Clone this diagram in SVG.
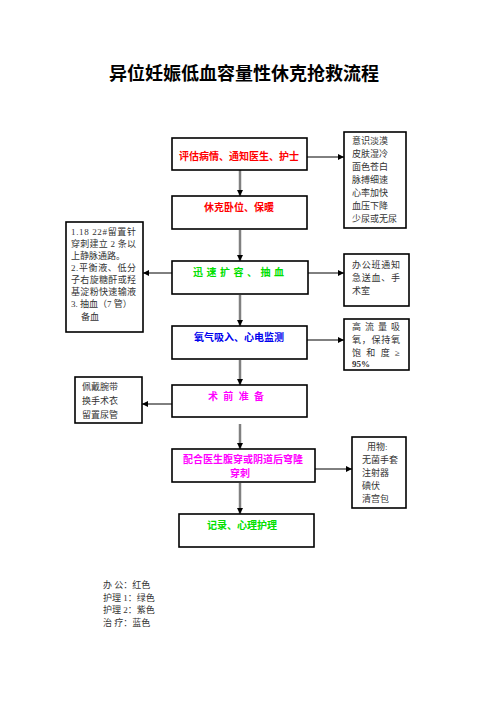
<svg xmlns="http://www.w3.org/2000/svg" width="496" height="702" viewBox="0 0 496 702">
<defs>
<marker id="ah" viewBox="0 0 6 6" refX="6" refY="3" markerWidth="6" markerHeight="6" markerUnits="userSpaceOnUse" orient="auto">
<path d="M0,0 L6,3 L0,6 Z" fill="#000"/>
</marker>
<marker id="av" viewBox="0 0 6 6" refX="6" refY="3" markerWidth="6" markerHeight="6" markerUnits="userSpaceOnUse" orient="auto">
<path d="M0,0 L6,3 L0,6 Z" fill="#000"/>
</marker>
</defs>
<style>
.box{fill:#fff;stroke:#000;stroke-width:1.6}
.main{font-family:"Noto Sans CJK SC","Liberation Sans",sans-serif;font-size:10px;font-weight:bold;text-anchor:middle}
.start{text-anchor:start}
.side{font-family:"Liberation Serif","Noto Sans CJK SC",serif;font-size:9px;fill:#333}
.v{stroke:#808080;stroke-width:2.5;fill:none;marker-end:url(#av)}
.h{stroke:#000;stroke-width:1;fill:none;marker-end:url(#ah)}
.red{fill:#ff0000}.green{fill:#00e000}.blue{fill:#0000ee}.pink{fill:#ff00ff}
</style>
<rect width="496" height="702" fill="#fff"/>
<text x="244" y="80" font-family="Noto Sans CJK SC, sans-serif" font-size="18" font-weight="bold" text-anchor="middle" fill="#000">异位妊娠低血容量性休克抢救流程</text>

<g id="connectors">
<line class="v" x1="240" y1="170" x2="240" y2="196"/>
<line class="v" x1="240" y1="230" x2="240" y2="261"/>
<line class="v" x1="240" y1="295" x2="240" y2="326"/>
<line class="v" x1="240" y1="360" x2="240" y2="385"/>
<line class="v" x1="240" y1="424" x2="240" y2="449"/>
<line class="v" x1="240" y1="483" x2="240" y2="514"/>
<line class="h" x1="307" y1="157" x2="344" y2="157"/>
<line class="h" x1="172" y1="273" x2="143" y2="273"/>
<line class="h" x1="308" y1="273" x2="344" y2="273"/>
<line class="h" x1="307" y1="340" x2="344" y2="340"/>
<line class="h" x1="172" y1="404" x2="142" y2="404"/>
<line class="h" x1="315" y1="469" x2="352" y2="469"/>
</g>

<g id="n1"><rect class="box" x="172" y="138" width="135" height="32"/><text class="main red" x="239" y="160">评估病情、通知医生、护士</text></g>
<g id="n2"><rect class="box" x="172" y="196" width="135" height="33"/><text class="main red" x="239" y="211">休克卧位、保暖</text></g>
<g id="n3"><rect class="box" x="172" y="261" width="136" height="33"/><text class="main start green" x="193" y="276" textLength="91" lengthAdjust="spacing">迅速扩容、抽血</text></g>
<g id="n4"><rect class="box" x="172" y="326" width="135" height="33"/><text class="main blue" x="239" y="341">氧气吸入、心电监测</text></g>
<g id="n5"><rect class="box" x="172" y="385" width="135" height="32"/><text class="main start pink" x="208" y="400" textLength="56" lengthAdjust="spacing">术前准备</text></g>
<g id="n6"><rect class="box" x="172" y="449" width="143" height="33"/><text class="main pink" x="243" y="463" font-size="10.5">配合医生腹穿或阴道后穹隆</text><text class="main pink" x="240" y="477" font-size="10.5">穿刺</text></g>
<g id="n7"><rect class="box" x="179" y="514" width="135" height="33"/><text class="main green" x="242" y="529">记录、心理护理</text></g>

<g id="s1"><rect class="box" x="344" y="132" width="62" height="96"/>
<text class="side" x="352" y="144">意识淡漠</text>
<text class="side" x="352" y="157">皮肤湿冷</text>
<text class="side" x="352" y="170">面色苍白</text>
<text class="side" x="352" y="183">脉搏细速</text>
<text class="side" x="352" y="196">心率加快</text>
<text class="side" x="352" y="209">血压下降</text>
<text class="side" x="352" y="222">少尿或无尿</text>
</g>

<g id="s2"><rect class="box" x="66" y="222" width="77" height="110"/>
<text class="side" x="71" y="235" textLength="65" lengthAdjust="spacing">1.18 22#留置针</text>
<text class="side" x="71" y="247" textLength="65" lengthAdjust="spacing">穿刺建立 2 条以</text>
<text class="side" x="71" y="259">上静脉通路。</text>
<text class="side" x="71" y="271" textLength="65" lengthAdjust="spacing">2.平衡液、低分</text>
<text class="side" x="71" y="283" textLength="65" lengthAdjust="spacing">子右旋糖酐或羟</text>
<text class="side" x="71" y="295" textLength="65" lengthAdjust="spacing">基淀粉快速输液</text>
<text class="side" x="71" y="307">3.  抽血（7 管）</text>
<text class="side" x="81" y="320">备血</text>
</g>

<g id="s3"><rect class="box" x="344" y="254" width="65" height="52"/>
<text class="side" x="352" y="268" textLength="48" lengthAdjust="spacing">办公班通知</text>
<text class="side" x="352" y="281" textLength="48" lengthAdjust="spacing">急送血、手</text>
<text class="side" x="352" y="294">术室</text>
</g>

<g id="s4"><rect class="box" x="344" y="319" width="65" height="51"/>
<text class="side" x="352" y="330" textLength="48" lengthAdjust="spacing">高流量吸</text>
<text class="side" x="352" y="343" textLength="48" lengthAdjust="spacing">氧，保持氧</text>
<text class="side" x="352" y="356" textLength="48" lengthAdjust="spacing">饱和度≥</text>
<text class="side" x="352" y="367" font-weight="bold" font-size="8" fill="#000">95%</text>
</g>

<g id="s5"><rect class="box" x="75" y="377" width="67" height="46"/>
<text class="side" x="82" y="390">佩戴腕带</text>
<text class="side" x="82" y="404">换手术衣</text>
<text class="side" x="82" y="418">留置尿管</text>
</g>

<g id="s6"><rect class="box" x="352" y="437" width="54" height="71"/>
<text class="side" x="367" y="450">用物:</text>
<text class="side" x="362" y="463">无菌手套</text>
<text class="side" x="362" y="476">注射器</text>
<text class="side" x="362" y="489">碘伏</text>
<text class="side" x="362" y="502">清宫包</text>
</g>

<g id="legend">
<text class="side" x="103" y="588">办  公：红色</text>
<text class="side" x="103" y="601">护理 1：绿色</text>
<text class="side" x="103" y="613">护理 2：紫色</text>
<text class="side" x="103" y="626">治  疗：蓝色</text>
</g>
</svg>
